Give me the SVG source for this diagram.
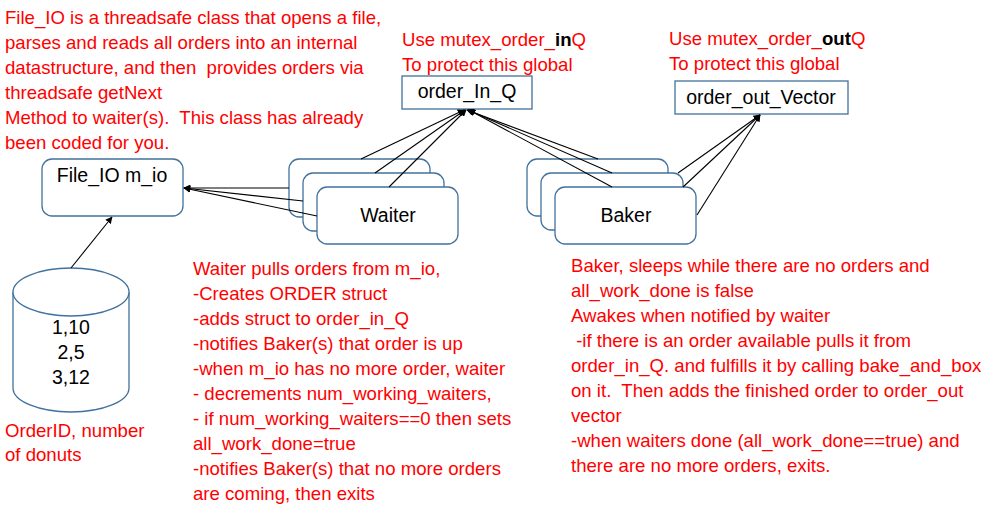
<svg xmlns="http://www.w3.org/2000/svg" width="997" height="507" viewBox="0 0 997 507">
<defs>
<style>
text{white-space:pre}
.note{font-family:"Liberation Sans",Arial,sans-serif;font-size:18.6px;fill:#FF0000}
.lbl{font-family:"Liberation Sans",Arial,sans-serif;font-size:19.5px;fill:#000}
.b{font-weight:bold;fill:#000}
.rb{fill:#fff;stroke:#41719C;stroke-width:1.3}
.conn line{stroke:#000;stroke-width:1.1;marker-end:url(#ah)}
</style>
<marker id="ah" viewBox="0 0 10 10" refX="9" refY="5" markerWidth="7" markerHeight="7" orient="auto" markerUnits="userSpaceOnUse">
<path d="M0,0 L10,5 L0,10 z" fill="#000"/>
</marker>
</defs>
<rect width="997" height="507" fill="#fff"/>

<g id="note-fileio">
<text class="note" x="5" y="24">File_IO is a threadsafe class that opens a file,</text>
<text class="note" x="5" y="49">parses and reads all orders into an internal</text>
<text class="note" x="5" y="74">datastructure, and then  provides orders via</text>
<text class="note" x="5" y="99">threadsafe getNext</text>
<text class="note" x="5" y="124">Method to waiter(s).  This class has already</text>
<text class="note" x="5" y="149">been coded for you.</text>
</g>

<g id="note-inq">
<text class="note" x="402" y="46">Use mutex_order_<tspan class="b">in</tspan>Q</text>
<text class="note" x="402" y="71">To protect this global</text>
</g>
<g id="note-outq">
<text class="note" x="669" y="45">Use mutex_order_<tspan class="b">out</tspan>Q</text>
<text class="note" x="669" y="70">To protect this global</text>
</g>

<g id="order_In_Q">
<rect x="402" y="76" width="130" height="33" fill="#fff" stroke="#41719C" stroke-width="1.3"/>
<text class="lbl" x="467" y="98" text-anchor="middle">order_In_Q</text>
</g>
<g id="order_out_Vector">
<rect x="675" y="81" width="173" height="33" fill="#fff" stroke="#41719C" stroke-width="1.3"/>
<text class="lbl" x="761" y="104" text-anchor="middle">order_out_Vector</text>
</g>

<g id="file_io">
<rect class="rb" x="42" y="159" width="141" height="57" rx="10"/>
<text class="lbl" x="112" y="182" text-anchor="middle">File_IO m_io</text>
</g>

<g id="waiter">
<rect class="rb" x="289" y="159" width="141" height="58" rx="10"/>
<rect class="rb" x="303" y="173" width="141" height="58" rx="10"/>
<rect class="rb" x="317" y="187" width="141" height="57" rx="10"/>
<text class="lbl" x="388" y="222" text-anchor="middle">Waiter</text>
</g>

<g id="baker">
<rect class="rb" x="527" y="159" width="141" height="57" rx="10"/>
<rect class="rb" x="541" y="173" width="142" height="57" rx="10"/>
<rect class="rb" x="555" y="187" width="141" height="57" rx="10"/>
<text class="lbl" x="626" y="222" text-anchor="middle">Baker</text>
</g>

<g id="orders-file">
<path d="M13,292 L13,388 A58,24 0 0 0 129,388 L129,292" fill="#fff" stroke="#41719C" stroke-width="1.3"/>
<ellipse cx="71" cy="292" rx="58" ry="24" fill="#fff" stroke="#41719C" stroke-width="1.3"/>
<text class="lbl" x="71" y="334" text-anchor="middle">1,10</text>
<text class="lbl" x="71" y="359" text-anchor="middle">2,5</text>
<text class="lbl" x="71" y="384" text-anchor="middle">3,12</text>
</g>

<g id="note-orderid">
<text class="note" x="5" y="437">OrderID, number</text>
<text class="note" x="5" y="461">of donuts</text>
</g>

<g class="conn" id="connectors">
<line x1="71" y1="268" x2="112" y2="217"/>
<line x1="289" y1="188" x2="184" y2="188"/>
<line x1="303" y1="201" x2="184" y2="188"/>
<line x1="317" y1="216" x2="184" y2="188"/>
<line x1="361" y1="159" x2="464" y2="110"/>
<line x1="375" y1="173" x2="465" y2="110"/>
<line x1="389" y1="187" x2="466" y2="110"/>
<line x1="598" y1="159" x2="467" y2="110"/>
<line x1="612" y1="173" x2="468" y2="110"/>
<line x1="612" y1="187" x2="469" y2="110"/>
<line x1="678" y1="173" x2="760" y2="115"/>
<line x1="683" y1="187" x2="760" y2="115"/>
<line x1="697" y1="215" x2="760" y2="115"/>
</g>

<g id="note-waiter">
<text class="note" x="193" y="275">Waiter pulls orders from m_io,</text>
<text class="note" x="193" y="300">-Creates ORDER struct</text>
<text class="note" x="193" y="325">-adds struct to order_in_Q</text>
<text class="note" x="193" y="350">-notifies Baker(s) that order is up</text>
<text class="note" x="193" y="375">-when m_io has no more order, waiter</text>
<text class="note" x="193" y="400">- decrements num_working_waiters,</text>
<text class="note" x="193" y="425">- if num_working_waiters==0 then sets</text>
<text class="note" x="193" y="450">all_work_done=true</text>
<text class="note" x="193" y="475">-notifies Baker(s) that no more orders</text>
<text class="note" x="193" y="500">are coming, then exits</text>
</g>

<g id="note-baker">
<text class="note" x="571" y="272">Baker, sleeps while there are no orders and</text>
<text class="note" x="571" y="297">all_work_done is false</text>
<text class="note" x="571" y="322">Awakes when notified by waiter</text>
<text class="note" x="571" y="347"> -if there is an order available pulls it from</text>
<text class="note" x="571" y="372">order_in_Q. and fulfills it by calling bake_and_box</text>
<text class="note" x="571" y="397">on it.  Then adds the finished order to order_out</text>
<text class="note" x="571" y="422">vector</text>
<text class="note" x="571" y="447">-when waiters done (all_work_done==true) and</text>
<text class="note" x="571" y="472">there are no more orders, exits.</text>
</g>
</svg>
